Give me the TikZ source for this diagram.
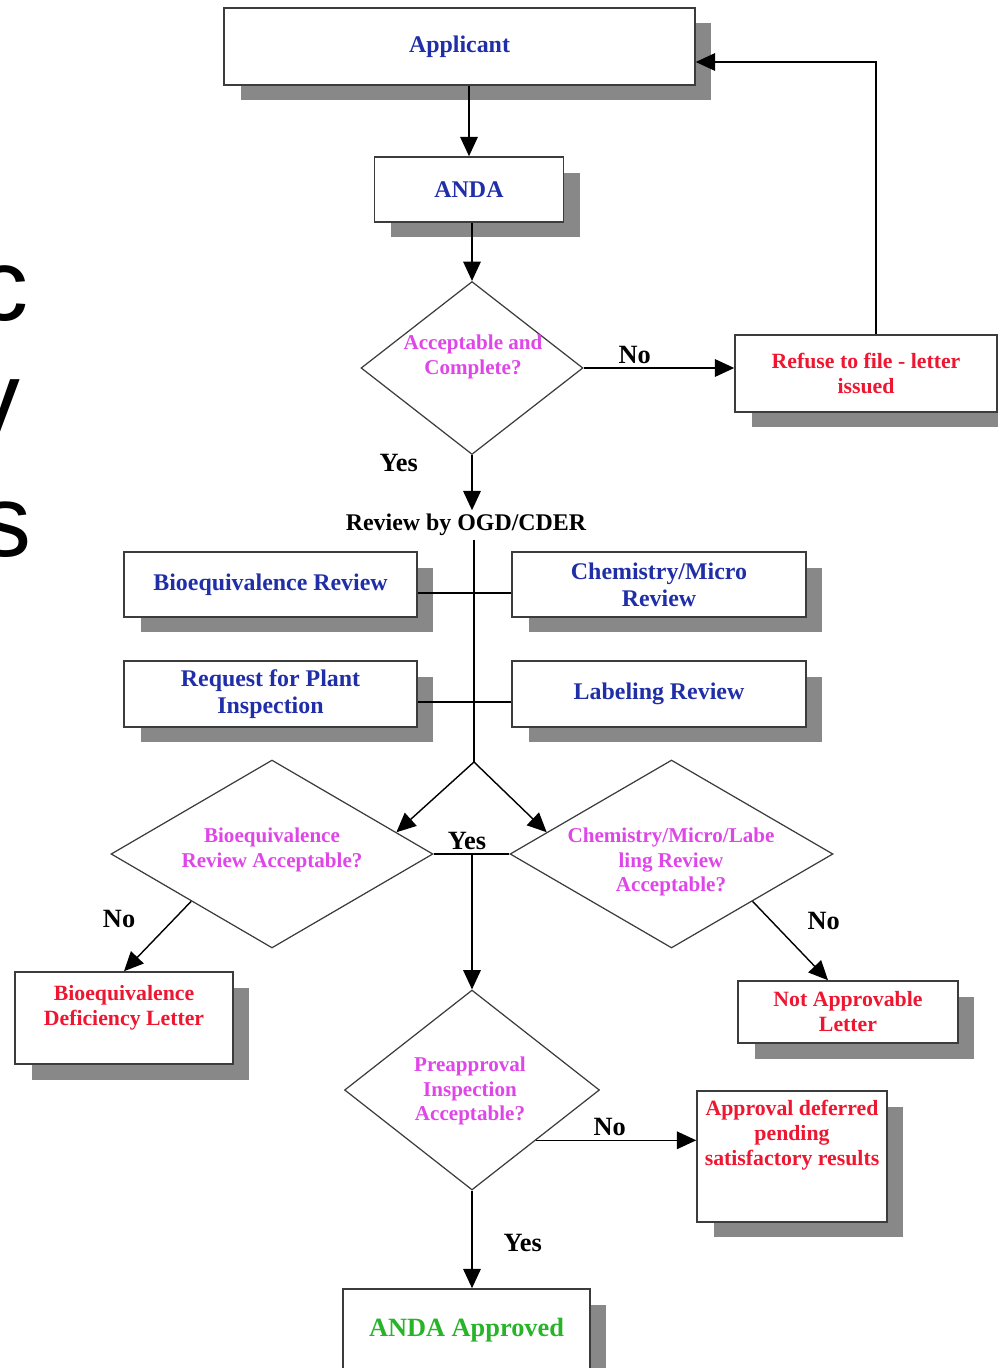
\documentclass[tikz,border=0pt]{standalone}
\usepackage{fontspec}
\setmainfont{Liberation Serif}
\newfontfamily\slidefont{Liberation Sans}
\usetikzlibrary{shapes.geometric,shadows,arrows.meta,calc}

\definecolor{ogdblue}{RGB}{32,46,168}
\definecolor{ogdpink}{RGB}{222,70,232}
\definecolor{ogdred}{RGB}{238,22,48}
\definecolor{ogdgreen}{RGB}{40,180,40}
\definecolor{shadowgray}{RGB}{136,136,136}
\definecolor{rimgray}{RGB}{60,60,60}

\begin{document}
\begin{tikzpicture}[x=0.02cm, y=-0.02cm]
        \useasboundingbox (0,0) rectangle (997,1368);

        % cut-off letters of the slide behind
        \begin{scope}[every node/.style={anchor=base east, inner sep=0pt, font=\slidefont\fontsize{58}{58}\selectfont}]
                \node (SlideC) at (29,320) {c};
                \node (SlideV) at (21,433) {v};
                \node (SlideS) at (32,556) {s};
        \end{scope}

        \begin{scope}[
                box/.style 2 args={draw=rimgray, line width=0.9pt, fill=white, rectangle, minimum width=#1cm, minimum height=#2cm, inner sep=2pt, align=center,
                        drop shadow={shadow xshift=0.33cm, shadow yshift=-0.31cm, fill=shadowgray, opacity=1}},
                dec/.style 2 args={draw=rimgray, line width=0.7pt, diamond, minimum width=#1cm, minimum height=#2cm, inner sep=0pt},
                bluetxt/.style={text=ogdblue, font=\bfseries\fontsize{13.6}{15.3}\selectfont},
                pinktxt/.style={text=ogdpink, align=center, inner sep=0pt, font=\bfseries\fontsize{12}{13.9}\selectfont},
                redtxt/.style={text=ogdred, align=center, inner sep=0pt, font=\bfseries\fontsize{12.4}{14.2}\selectfont},
                greentxt/.style={text=ogdgreen, font=\bfseries\fontsize{15}{17}\selectfont},
                lbl/.style={text=black, inner sep=2pt, font=\bfseries\fontsize{15}{17}\selectfont},
                line/.style={draw=black, line width=0.8pt},
                arr/.style={line, -{Triangle[length=11pt,width=10pt]}}]

                % boxes
                \node[box={9.42}{1.54}, bluetxt] (App) at (459.5,46.5) {Applicant};
                \node[box={3.78}{1.30}, bluetxt] (ANDA) at (469,189.5) {ANDA};
                \node[box={5.24}{1.54}, redtxt, inner sep=2pt] (Refuse) at (866,373.5) {Refuse to file - letter\\issued};
                \node[box={5.86}{1.30}, bluetxt] (BioRev) at (270.5,584.5) {Bioequivalence Review};
                \node[box={5.88}{1.30}, bluetxt] (ChemRev) at (659,584.5) {Chemistry/Micro\\Review};
                \node[box={5.86}{1.32}, bluetxt] (Plant) at (270.5,694) {Request for Plant\\Inspection};
                \node[box={5.88}{1.32}, bluetxt] (LabRev) at (659,694) {Labeling Review};
                \node[box={4.36}{1.84}] (BioDef) at (124,1018) {};
                \node[redtxt] (BioDefT) at (124,1008) {Bioequivalence\\Deficiency Letter};
                \node[box={4.40}{1.24}, redtxt, inner sep=2pt] (NotAppr) at (848,1012) {Not Approvable\\Letter};
                \node[box={3.80}{2.62}] (Defer) at (792,1156.5) {};
                \node[redtxt] (DeferT) at (792,1135) {Approval deferred\\pending\\satisfactory results};
                \node[box={4.94}{1.64}, greentxt] (Approved) at (466.5,1330) {ANDA Approved};

                % decisions
                \node[dec={4.44}{3.46}] (Q1) at (472,368) {};
                \node[pinktxt] (Q1T) at (473,357) {Acceptable and\\Complete?};
                \node[dec={6.44}{3.76}] (Q2) at (272,854) {};
                \node[pinktxt] (Q2T) at (272,850) {Bioequivalence\\Review Acceptable?};
                \node[dec={6.46}{3.76}] (Q3) at (671.5,854) {};
                \node[pinktxt] (Q3T) at (671,862) {Chemistry/Micro/Labe\\ling Review\\Acceptable?};
                \node[dec={5.10}{4.00}] (Q4) at (472,1090) {};
                \node[pinktxt] (Q4T) at (470,1091) {Preapproval\\Inspection\\Acceptable?};

                \node[lbl, font=\bfseries\fontsize{13.6}{15}\selectfont] (OGD) at (466,525) {Review by OGD/CDER};
                \coordinate (Back) at (876,62);
                \coordinate (Split) at (474,762);

                % connectors
                \draw[arr] (App.south -| ANDA.north) -- (ANDA.north);
                \draw[arr] (ANDA.south -| Q1.north) -- (Q1.north);
                \draw[arr] (Q1.east) -- node[lbl, pos=0.34, above] {No} (Q1.east -| Refuse.west);
                \draw[arr] (Refuse.north -| Back) -- (Back) -- (Back -| App.east);
                \draw[arr] (Q1.south) -- node[lbl, pos=0.15, left=1.0cm] {Yes} (Q1.south |- OGD.north);
                \draw[line] (OGD.south -| Split) -- (Split);
                \draw[line] ([yshift=-0.17cm]BioRev.east) -- ([yshift=-0.17cm]BioRev.east -| ChemRev.west);
                \draw[line] ([yshift=-0.16cm]Plant.east) -- ([yshift=-0.16cm]Plant.east -| LabRev.west);
                \draw[arr] (Split) -- ($(Q2.north)!0.77!(Q2.east)$);
                \draw[arr] (Split) -- ($(Q3.north)!0.77!(Q3.west)$);
                \draw[line] (Q2.east) -- node[lbl, pos=0.44, above] {Yes} (Q3.west);
                \draw[arr] (Q4.north |- Q2.east) -- (Q4.north);
                \draw[arr] (Q2.south west) -- node[lbl, pos=0.25, left=0.7cm] {No} (BioDef.north);
                \draw[arr] (Q3.south east) -- node[lbl, pos=0.25, right=0.64cm] {No} ([xshift=-0.4cm]NotAppr.north);
                \draw[arr] (Q4.south east) -- node[lbl, pos=0.46, above] {No} (Q4.south east -| Defer.west);
                \draw[arr] (Q4.south) -- node[lbl, pos=0.54, right=0.55cm] {Yes} (Q4.south |- Approved.north);
        \end{scope}
\end{tikzpicture}
\end{document}
